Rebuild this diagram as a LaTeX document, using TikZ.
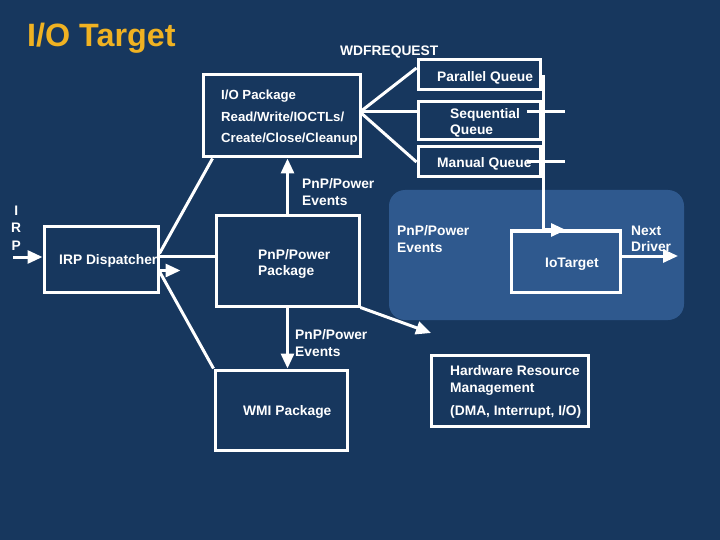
\documentclass[tikz,border=0pt]{standalone}
\usepackage{fontspec}
\setmainfont{Liberation Sans}
\usepackage{tikz}
\usetikzlibrary{arrows.meta}
\definecolor{navy}{RGB}{23,55,94}
\definecolor{region}{RGB}{47,89,142}
\definecolor{titlegold}{RGB}{240,178,34}

\begin{document}
\begin{tikzpicture}[x=1pt,y=-1pt,
  box/.style={draw=white, line width=3pt, minimum width=#1},
  conn/.style={white, line width=3pt},
  arr/.style={conn, -{Triangle[length=15pt,width=13pt]}},
  txt/.style={text=white, anchor=west, align=left, inner sep=0pt, yshift=-2pt,
    font=\bfseries\fontsize{13.8}{16.5}\selectfont}]
\fill[navy] (0,0) rectangle (720,540);
\useasboundingbox (0,0) rectangle (720,540);
\fill[region, rounded corners=16pt] (389,190) rectangle (684,320);

\node[text=titlegold, anchor=west, inner sep=0pt, font=\bfseries\fontsize{32.3}{36}\selectfont] (title) at (27,38) {I/O Target};
\node[txt] (wdfreq) at (340,50) {WDFREQUEST};

% boxes
\node[box=157pt, minimum height=82pt] (iopkg) at (281.5,116) {};
\node[box=122pt, minimum height=30pt] (parq) at (479,75) {};
\node[box=122pt, minimum height=38pt] (seqq) at (479,121) {};
\node[box=122pt, minimum height=30pt] (manq) at (479,162) {};
\node[box=114pt, minimum height=65pt] (disp) at (101,259.5) {};
\node[box=143pt, minimum height=90pt] (pnppkg) at (287.5,261) {};
\node[box=132pt, minimum height=80pt] (wmi) at (281,410) {};
\node[box=157pt, minimum height=71pt] (hw) at (509.5,390.5) {};
\node[box=109pt, minimum height=61pt] (iotgt) at (565.5,261.5) {};

% texts
\node[txt, font=\bfseries\fontsize{13.2}{21.5}\selectfont] (iotxt) at (221,116) {I/O Package\\Read/Write/IOCTLs/\\Create/Close/Cleanup};
\node[txt] (partxt) at (437,76) {Parallel Queue};
\node[txt] (seqtxt) at (450,121) {Sequential\\Queue};
\node[txt] (mantxt) at (437,162) {Manual Queue};
\node[txt] (disptxt) at (59,259) {IRP Dispatcher};
\node[txt] (pnptxt) at (258,262) {PnP/Power\\Package};
\node[txt] (wmitxt) at (243,410) {WMI Package};
\node[txt] (hwtxt) at (450,390) {Hardware Resource\\Management\\[7pt](DMA, Interrupt, I/O)};
\node[txt] (iotgttxt) at (545,262) {IoTarget};
\node[txt, align=center, font=\bfseries\fontsize{13.8}{17.5}\selectfont] (irptxt) at (11,226) {I\\R\\P};
\node[txt] (evup) at (302,190) {PnP/Power\\Events};
\node[txt] (evdown) at (295,341) {PnP/Power\\Events};
\node[txt] (evregion) at (397,237) {PnP/Power\\Events};
\node[txt] (nexttxt) at (631,237) {Next\\Driver};

% connectors
\coordinate (fan) at (360,112);
\coordinate (irpin) at (13,257);
\coordinate (iotin) at (566,230);
\coordinate (seqout) at (565,112);
\coordinate (manout) at (565,162);
\coordinate (hwin) at (431,333);
\coordinate (nextdrv) at (678,256);
\coordinate (dispout) at ([yshift=3pt]disp.east);

\draw[conn] (fan) -- ([yshift=7pt]parq.west);
\draw[conn] (fan) -- (seqq.west |- fan);
\draw[conn] (fan) -- (manq.west);
\draw[arr] ([xshift=2pt]parq.east) |- (iotin);
\draw[conn] ([xshift=-15pt]seqq.east |- seqout) -- (seqout);
\draw[conn] ([xshift=-15pt]manq.east |- manout) -- (manout);

\draw[arr] (irpin) -- (disp.west |- irpin);
\draw[conn] (dispout) -- (pnppkg.west |- dispout);
\draw[conn] ([yshift=6pt]disp.east) -- ([xshift=11pt]iopkg.south west);
\draw[conn] (wmi.north west) -- ([yshift=-12pt]disp.east);
\draw[arr] ([yshift=-11pt]disp.east) -- ++(21,0);

\draw[arr] (pnppkg.north) -- (pnppkg.north |- iopkg.south);
\draw[arr] (pnppkg.south) -- (pnppkg.south |- wmi.north);
\draw[arr] (pnppkg.south east) -- (hwin);
\draw[arr] (iotgt.east |- nextdrv) -- (nextdrv);
\end{tikzpicture}
\end{document}
